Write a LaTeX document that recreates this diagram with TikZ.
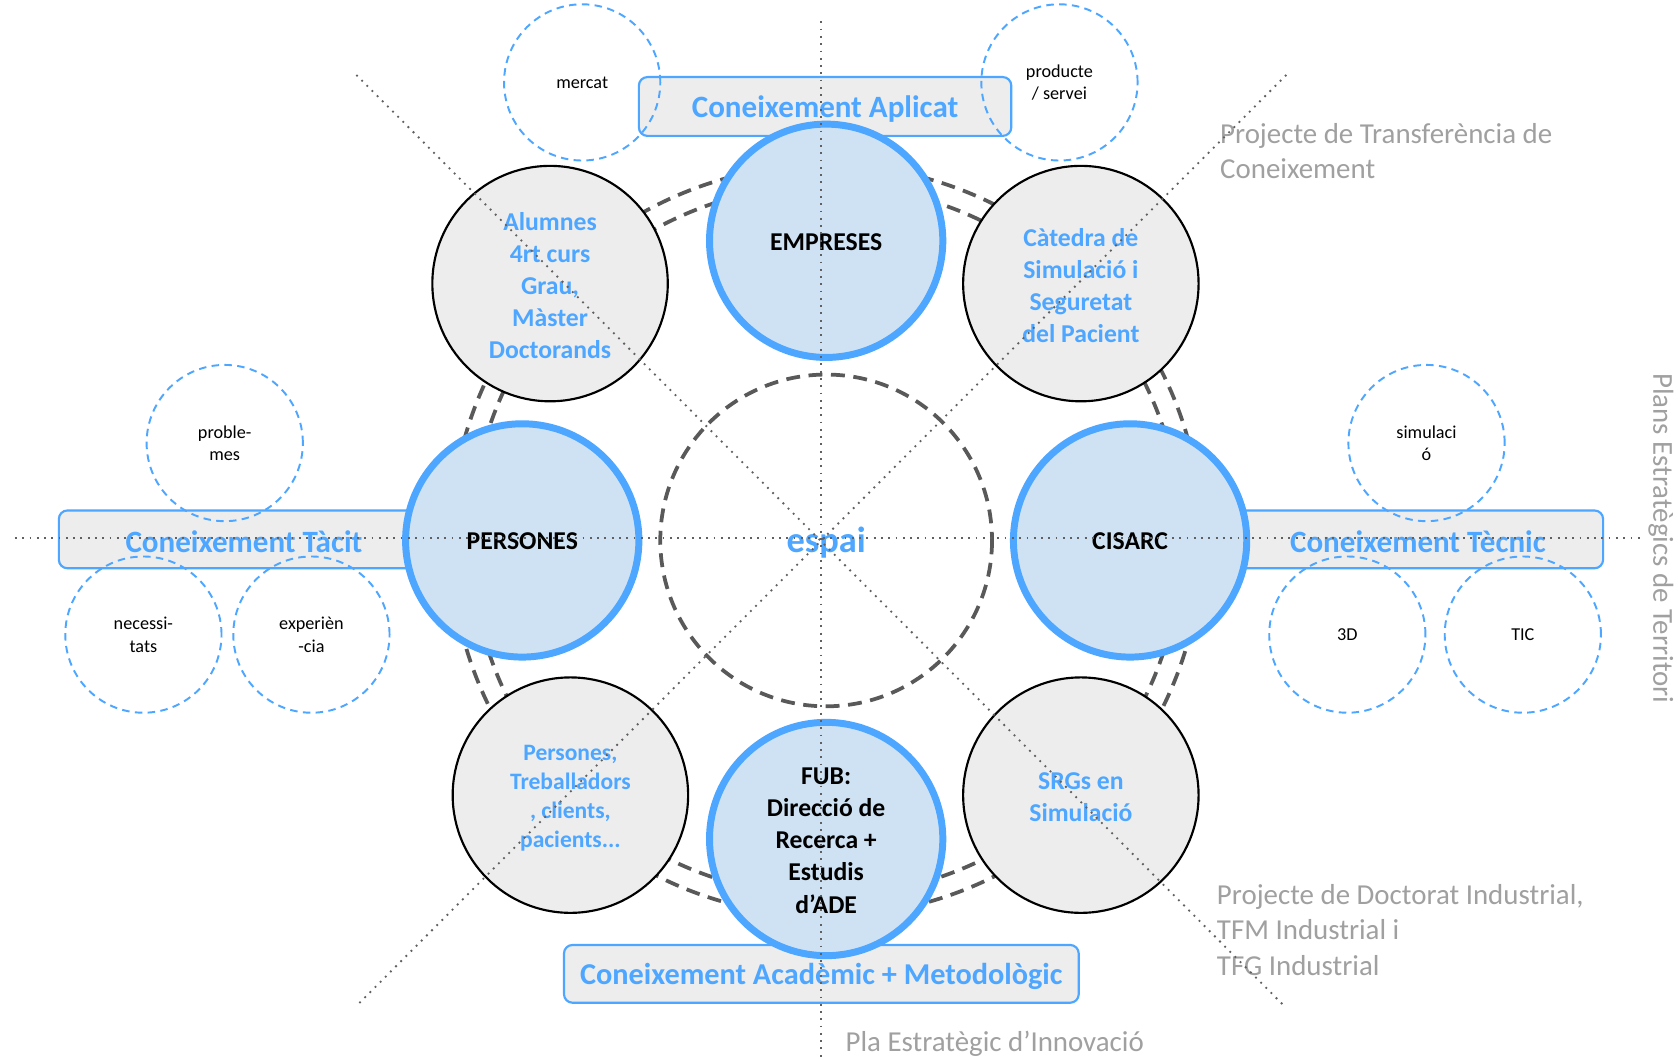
\documentclass[tikz,border=0pt]{standalone}
\usepackage{fontspec}
\setmainfont{Carlito}
\definecolor{cblue}{HTML}{4DA6FF}
\definecolor{cfill}{HTML}{CFE2F3}
\definecolor{cgray}{HTML}{EDEDED}
\definecolor{cdark}{HTML}{595959}
\definecolor{ctext}{HTML}{A0A0A0}
\definecolor{cdot}{HTML}{606060}
\tikzset{
  mainc/.style={circle, draw=cblue, line width=6.5pt, fill=cfill, minimum size=218pt, inner sep=0pt},
  maintxt/.style={inner sep=0pt, align=center, font=\bfseries\fontsize{24}{30}\selectfont, text=black},
  grayc/.style={circle, draw=black, line width=2pt, fill=cgray, minimum size=220pt, inner sep=0pt},
  graycirctxt/.style={inner sep=0pt, align=center, font=\bfseries\fontsize{24}{30}\selectfont, text=cblue},
  smallc/.style={circle, draw=cblue, line width=1.8pt, dash pattern=on 7pt off 5pt, minimum size=146pt,
    inner sep=0pt, align=center, font=\fontsize{17}{21}\selectfont, text=black},
  kbox/.style={rectangle, rounded corners=8pt, draw=cblue, line width=2pt, fill=cgray, inner sep=0pt},
  kboxtxt/.style={inner sep=0pt, font=\bfseries\fontsize{29}{34}\selectfont, text=cblue},
  ring/.style={draw=cdark, line width=3.5pt, dash pattern=on 13pt off 8pt},
  axis/.style={draw=cdot, line width=1.7pt, dash pattern=on 1.7pt off 5.1pt},
  graytxt/.style={inner sep=0pt, align=left, text=ctext, font=\fontsize{27}{33}\selectfont}
}
\begin{document}
\begin{tikzpicture}[x=1pt,y=-1pt]
\useasboundingbox[fill=white] (0,0) rectangle (1568,990);
\coordinate (c) at (772,505);
% double ring and central ring
\draw[ring] (c) circle (332);
\draw[ring] (c) circle (351);
\draw[ring] (c) circle (155);
% boxes
\node[kbox, minimum width=348pt, minimum height=55pt] (bapl) at (771,99.5) {};
\node[kboxtxt] (tapl) at (771,101.5) {Coneixement Aplicat};
\node[kbox, minimum width=346pt, minimum height=54pt] (btac) at (228,504) {};
\node[kboxtxt] (ttac) at (228,506) {Coneixement Tàcit};
\node[kbox, minimum width=346pt, minimum height=54pt] (btec) at (1325,504) {};
\node[kboxtxt] (ttec) at (1325,506) {Coneixement Tècnic};
\node[kbox, minimum width=481pt, minimum height=54pt] (baca) at (767.5,910) {};
\node[kboxtxt, font=\bfseries\fontsize{28.3}{34}\selectfont] (taca) at (767.5,912) {Coneixement Acadèmic + Metodològic};
% main circles
\node[mainc] (emp) at (772,225) {};
\node[maintxt] (temp) at (772,226) {EMPRESES};
\node[mainc] (per) at (488,505) {};
\node[maintxt] (tper) at (488,506) {PERSONES};
\node[mainc] (cis) at (1056,505) {};
\node[maintxt] (tcis) at (1056,506) {CISARC};
\node[mainc] (fub) at (772,784) {};
\node[maintxt] (tfub) at (772,785.5) {FUB:\\Direcció de\\Recerca +\\Estudis\\d’ADE};
% gray circles
\node[grayc] (alu) at (514,265) {};
\node[graycirctxt] (talu) at (514,267) {Alumnes\\4rt curs\\Grau,\\Màster\\Doctorands};
\node[grayc] (cat) at (1010,265) {};
\node[graycirctxt] (tcat) at (1010,267) {Càtedra de\\Simulació i\\Seguretat\\del Pacient};
\node[grayc] (pers) at (533,743) {};
\node[graycirctxt, font=\bfseries\fontsize{22}{27}\selectfont] (tpers) at (533,746) {Persones,\\Treballadors\\, clients,\\pacients...};
\node[grayc] (srg) at (1010,743) {};
\node[graycirctxt] (tsrg) at (1010,745) {SRGs en\\Simulació};
% small dashed circles
\node[smallc] (mer) at (544,77) {mercat};
\node[smallc] (pro) at (990,77) {producte\\/ servei};
\node[smallc] (prb) at (210,414) {proble-\\mes};
\node[smallc] (nec) at (134,593) {necessi-\\tats};
\node[smallc] (exp) at (291,593) {experièn\\-cia};
\node[smallc] (sim) at (1333,414) {simulaci\\ó};
\node[smallc] (tdd) at (1259,593) {3D};
\node[smallc] (tic) at (1423,593) {TIC};
% centre label
\node[inner sep=0pt, text=cblue, font=\bfseries\fontsize{34}{40}\selectfont] (esp) at (772,507) {espai};
% gray texts
\node[graytxt, anchor=west] (t1) at (1140,141) {Projecte de Transferència de\\Coneixement};
\node[graytxt, anchor=west] (t2) at (1137,869) {Projecte de Doctorat Industrial,\\TFM Industrial i\\TFG Industrial};
\node[graytxt, anchor=west] (t3) at (790,975) {Pla Estratègic d’Innovació};
\node[graytxt, rotate=-90] (t4) at (1552,503) {Plans Estratègics de Territori};
% dotted axes
\coordinate (vt) at (767,20);
\coordinate (vb) at (767,988);
\coordinate (hl) at (14,503);
\coordinate (hr) at (1535,503);
\coordinate (d1a) at (333,70);
\coordinate (d1b) at (1200,940);
\coordinate (d2a) at (1202,70);
\coordinate (d2b) at (333,940);
\draw[axis] (vt) -- (vb);
\draw[axis] (hl) -- (hr);
\draw[axis] (d1a) -- (d1b);
\draw[axis] (d2a) -- (d2b);
\end{tikzpicture}
\end{document}
